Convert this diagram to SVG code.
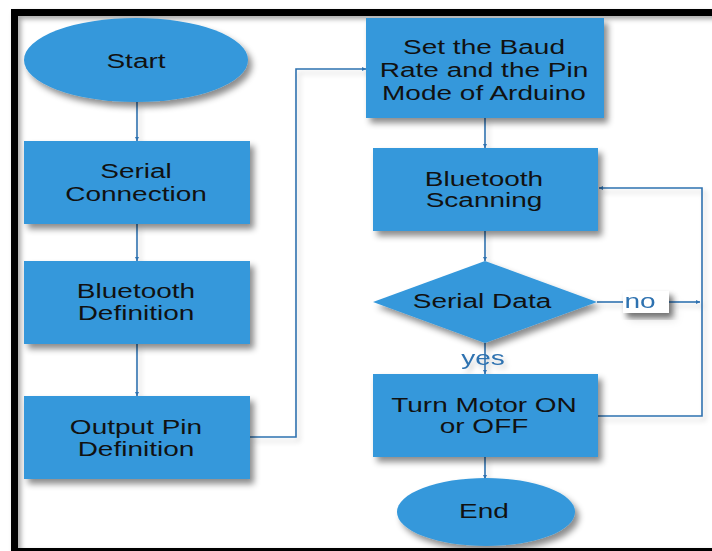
<svg xmlns="http://www.w3.org/2000/svg" width="712" height="551" viewBox="0 0 712 551">
  <defs>
    <filter id="shadow" x="-10%" y="-10%" width="130%" height="140%">
      <feDropShadow dx="4" dy="5" stdDeviation="3" flood-color="#000" flood-opacity="0.45"/>
    </filter>
    <filter id="lineShadow" x="-5%" y="-5%" width="115%" height="115%">
      <feDropShadow dx="3" dy="4" stdDeviation="2.5" flood-color="#000" flood-opacity="0.18"/>
    </filter>
    <filter id="frameShadow" x="-5%" y="-5%" width="110%" height="110%">
      <feDropShadow dx="3" dy="3" stdDeviation="2.5" flood-color="#000" flood-opacity="0.35"/>
    </filter>
    <marker id="arrow" viewBox="0 0 6 6" refX="6" refY="3" markerWidth="4" markerHeight="4" orient="auto" markerUnits="userSpaceOnUse">
      <path d="M0,0 L6,3 L0,6 Z" fill="#2f72b0"/>
    </marker>
    <style>
      .node { fill: #3498db; filter: url(#shadow); }
      .label { font-family: "Liberation Sans", Arial, sans-serif; font-size: 20px; fill: #111; text-anchor: middle; }
      .edge { fill: none; stroke: #2f72b0; stroke-width: 1.6; marker-end: url(#arrow); }
      .plain { fill: none; stroke: #2f72b0; stroke-width: 1.6; }
      .edgeLabel { font-family: "Liberation Sans", Arial, sans-serif; font-size: 20px; fill: #2f72b0; text-anchor: middle; }
    </style>
  </defs>

  <rect width="712" height="551" fill="#fff"/>

  <!-- page frame -->
  <rect x="14.5" y="12.5" width="720" height="539" fill="none" stroke="#000" stroke-width="7" filter="url(#frameShadow)"/>

  <!-- connectors -->
  <g id="connectors" filter="url(#lineShadow)">
    <path class="edge" d="M137,102 V141"/>
    <path class="edge" d="M137,224 V261"/>
    <path class="edge" d="M137,344 V396"/>
    <path class="edge" d="M250,437 H296 V69 H366"/>
    <path class="edge" d="M485,118 V148"/>
    <path class="edge" d="M485,231 V261"/>
    <path class="edge" d="M485,343 V374"/>
    <path class="edge" d="M485,457 V479"/>
    <path class="plain" d="M597,302 H623"/>
    <path class="edge" d="M669,302 H700"/>
    <path class="edge" d="M598,416 H702 V188 H599"/>
    <g id="label-no">
      <rect x="623" y="291" width="46" height="22" fill="#fff" filter="url(#shadow)"/>
      <text class="edgeLabel" transform="translate(640,308) scale(1.4,1)">no</text>
    </g>
    <text id="label-yes" class="edgeLabel" transform="translate(483,365) scale(1.4,1)">yes</text>
  </g>

  <!-- left column -->
  <g id="start">
    <ellipse class="node" cx="136" cy="60" rx="112" ry="42"/>
    <text class="label" transform="translate(136,68) scale(1.4,1)">Start</text>
  </g>
  <g id="serial-connection">
    <rect class="node" x="24" y="141" width="226" height="83"/>
    <text class="label" transform="translate(136,178) scale(1.4,1)"><tspan x="0" y="0">Serial</tspan><tspan x="0" y="23">Connection</tspan></text>
  </g>
  <g id="bluetooth-definition">
    <rect class="node" x="24" y="261" width="226" height="83"/>
    <text class="label" transform="translate(136,298) scale(1.4,1)"><tspan x="0" y="0">Bluetooth</tspan><tspan x="0" y="22">Definition</tspan></text>
  </g>
  <g id="output-pin-definition">
    <rect class="node" x="24" y="396" width="226" height="83"/>
    <text class="label" transform="translate(136,434) scale(1.4,1)"><tspan x="0" y="0">Output Pin</tspan><tspan x="0" y="22">Definition</tspan></text>
  </g>

  <!-- right column -->
  <g id="baud-rate">
    <rect class="node" x="366" y="18" width="238" height="100"/>
    <text class="label" transform="translate(484,54) scale(1.4,1)"><tspan x="0" y="0">Set the Baud</tspan><tspan x="0" y="23">Rate and the Pin</tspan><tspan x="0" y="46">Mode of Arduino</tspan></text>
  </g>
  <g id="bluetooth-scanning">
    <rect class="node" x="373" y="148" width="225" height="83"/>
    <text class="label" transform="translate(484,186) scale(1.4,1)"><tspan x="0" y="0">Bluetooth</tspan><tspan x="0" y="21">Scanning</tspan></text>
  </g>
  <g id="serial-data">
    <polygon class="node" points="485,261 597,302 485,343 373,302"/>
    <text class="label" transform="translate(482,308) scale(1.4,1)">Serial Data</text>
  </g>
  <g id="turn-motor">
    <rect class="node" x="373" y="374" width="225" height="83"/>
    <text class="label" transform="translate(484,412) scale(1.4,1)"><tspan x="0" y="0">Turn Motor ON</tspan><tspan x="0" y="21">or OFF</tspan></text>
  </g>
  <g id="end">
    <ellipse class="node" cx="486" cy="512" rx="89" ry="34"/>
    <text class="label" transform="translate(484,518) scale(1.4,1)">End</text>
  </g>
</svg>
